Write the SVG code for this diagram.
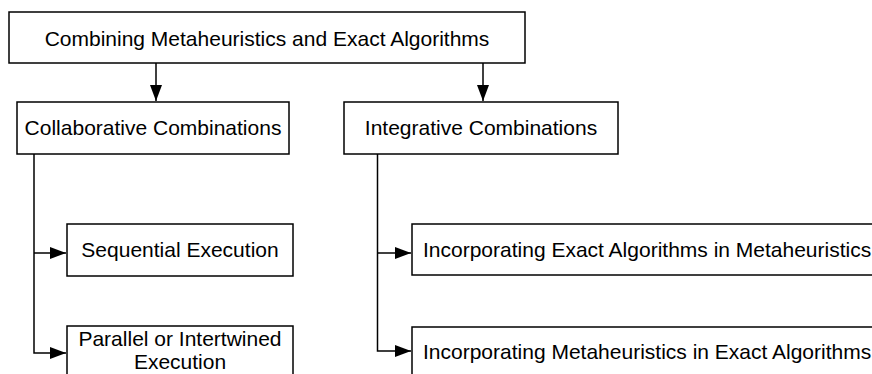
<svg xmlns="http://www.w3.org/2000/svg" width="872" height="374" viewBox="0 0 872 374">
<style>
.box{fill:#fff;stroke:#000;stroke-width:1.5}
.t{font-family:"Liberation Sans",Arial,Helvetica,sans-serif;font-size:21px;fill:#000}
.c{text-anchor:middle}
.ln{fill:none;stroke:#000;stroke-width:1.5}
</style>
<defs>
<marker id="ah" markerUnits="userSpaceOnUse" markerWidth="17" markerHeight="13" refX="16" refY="6.5" orient="auto">
<path d="M0,0.5 L16,6.5 L0,12.5 z" fill="#000"/>
</marker>
</defs>
<rect x="0" y="0" width="872" height="374" fill="#fff"/>
<g id="connectors">
<line class="ln" x1="156" y1="63" x2="156" y2="101" marker-end="url(#ah)"/>
<line class="ln" x1="483" y1="63" x2="483" y2="101" marker-end="url(#ah)"/>
<polyline class="ln" points="34,154 34,353 66,353" marker-end="url(#ah)"/>
<line class="ln" x1="34" y1="253" x2="66" y2="253" marker-end="url(#ah)"/>
<polyline class="ln" points="377.5,154 377.5,351 411,351" marker-end="url(#ah)"/>
<line class="ln" x1="377.5" y1="253" x2="411" y2="253" marker-end="url(#ah)"/>
</g>
<g id="root">
<rect class="box" x="9" y="12" width="516" height="51"/>
<text class="t c" x="267" y="45.5">Combining Metaheuristics and Exact Algorithms</text>
</g>
<g id="collaborative">
<rect class="box" x="17" y="102" width="272" height="52"/>
<text class="t c" x="153" y="135">Collaborative Combinations</text>
</g>
<g id="integrative">
<rect class="box" x="344" y="102" width="274" height="52"/>
<text class="t c" x="481" y="135">Integrative Combinations</text>
</g>
<g id="sequential">
<rect class="box" x="67" y="224" width="226" height="52"/>
<text class="t c" x="180" y="257">Sequential Execution</text>
</g>
<g id="parallel">
<rect class="box" x="67" y="326" width="226" height="60"/>
<text class="t c" x="180" y="346">Parallel or Intertwined</text>
<text class="t c" x="180" y="369">Execution</text>
</g>
<g id="exact-in-meta">
<rect class="box" x="412" y="224" width="480" height="51"/>
<text class="t" x="423" y="257">Incorporating Exact Algorithms in Metaheuristics</text>
</g>
<g id="meta-in-exact">
<rect class="box" x="412" y="327" width="480" height="60"/>
<text class="t" x="423" y="359">Incorporating Metaheuristics in Exact Algorithms</text>
</g>
</svg>
